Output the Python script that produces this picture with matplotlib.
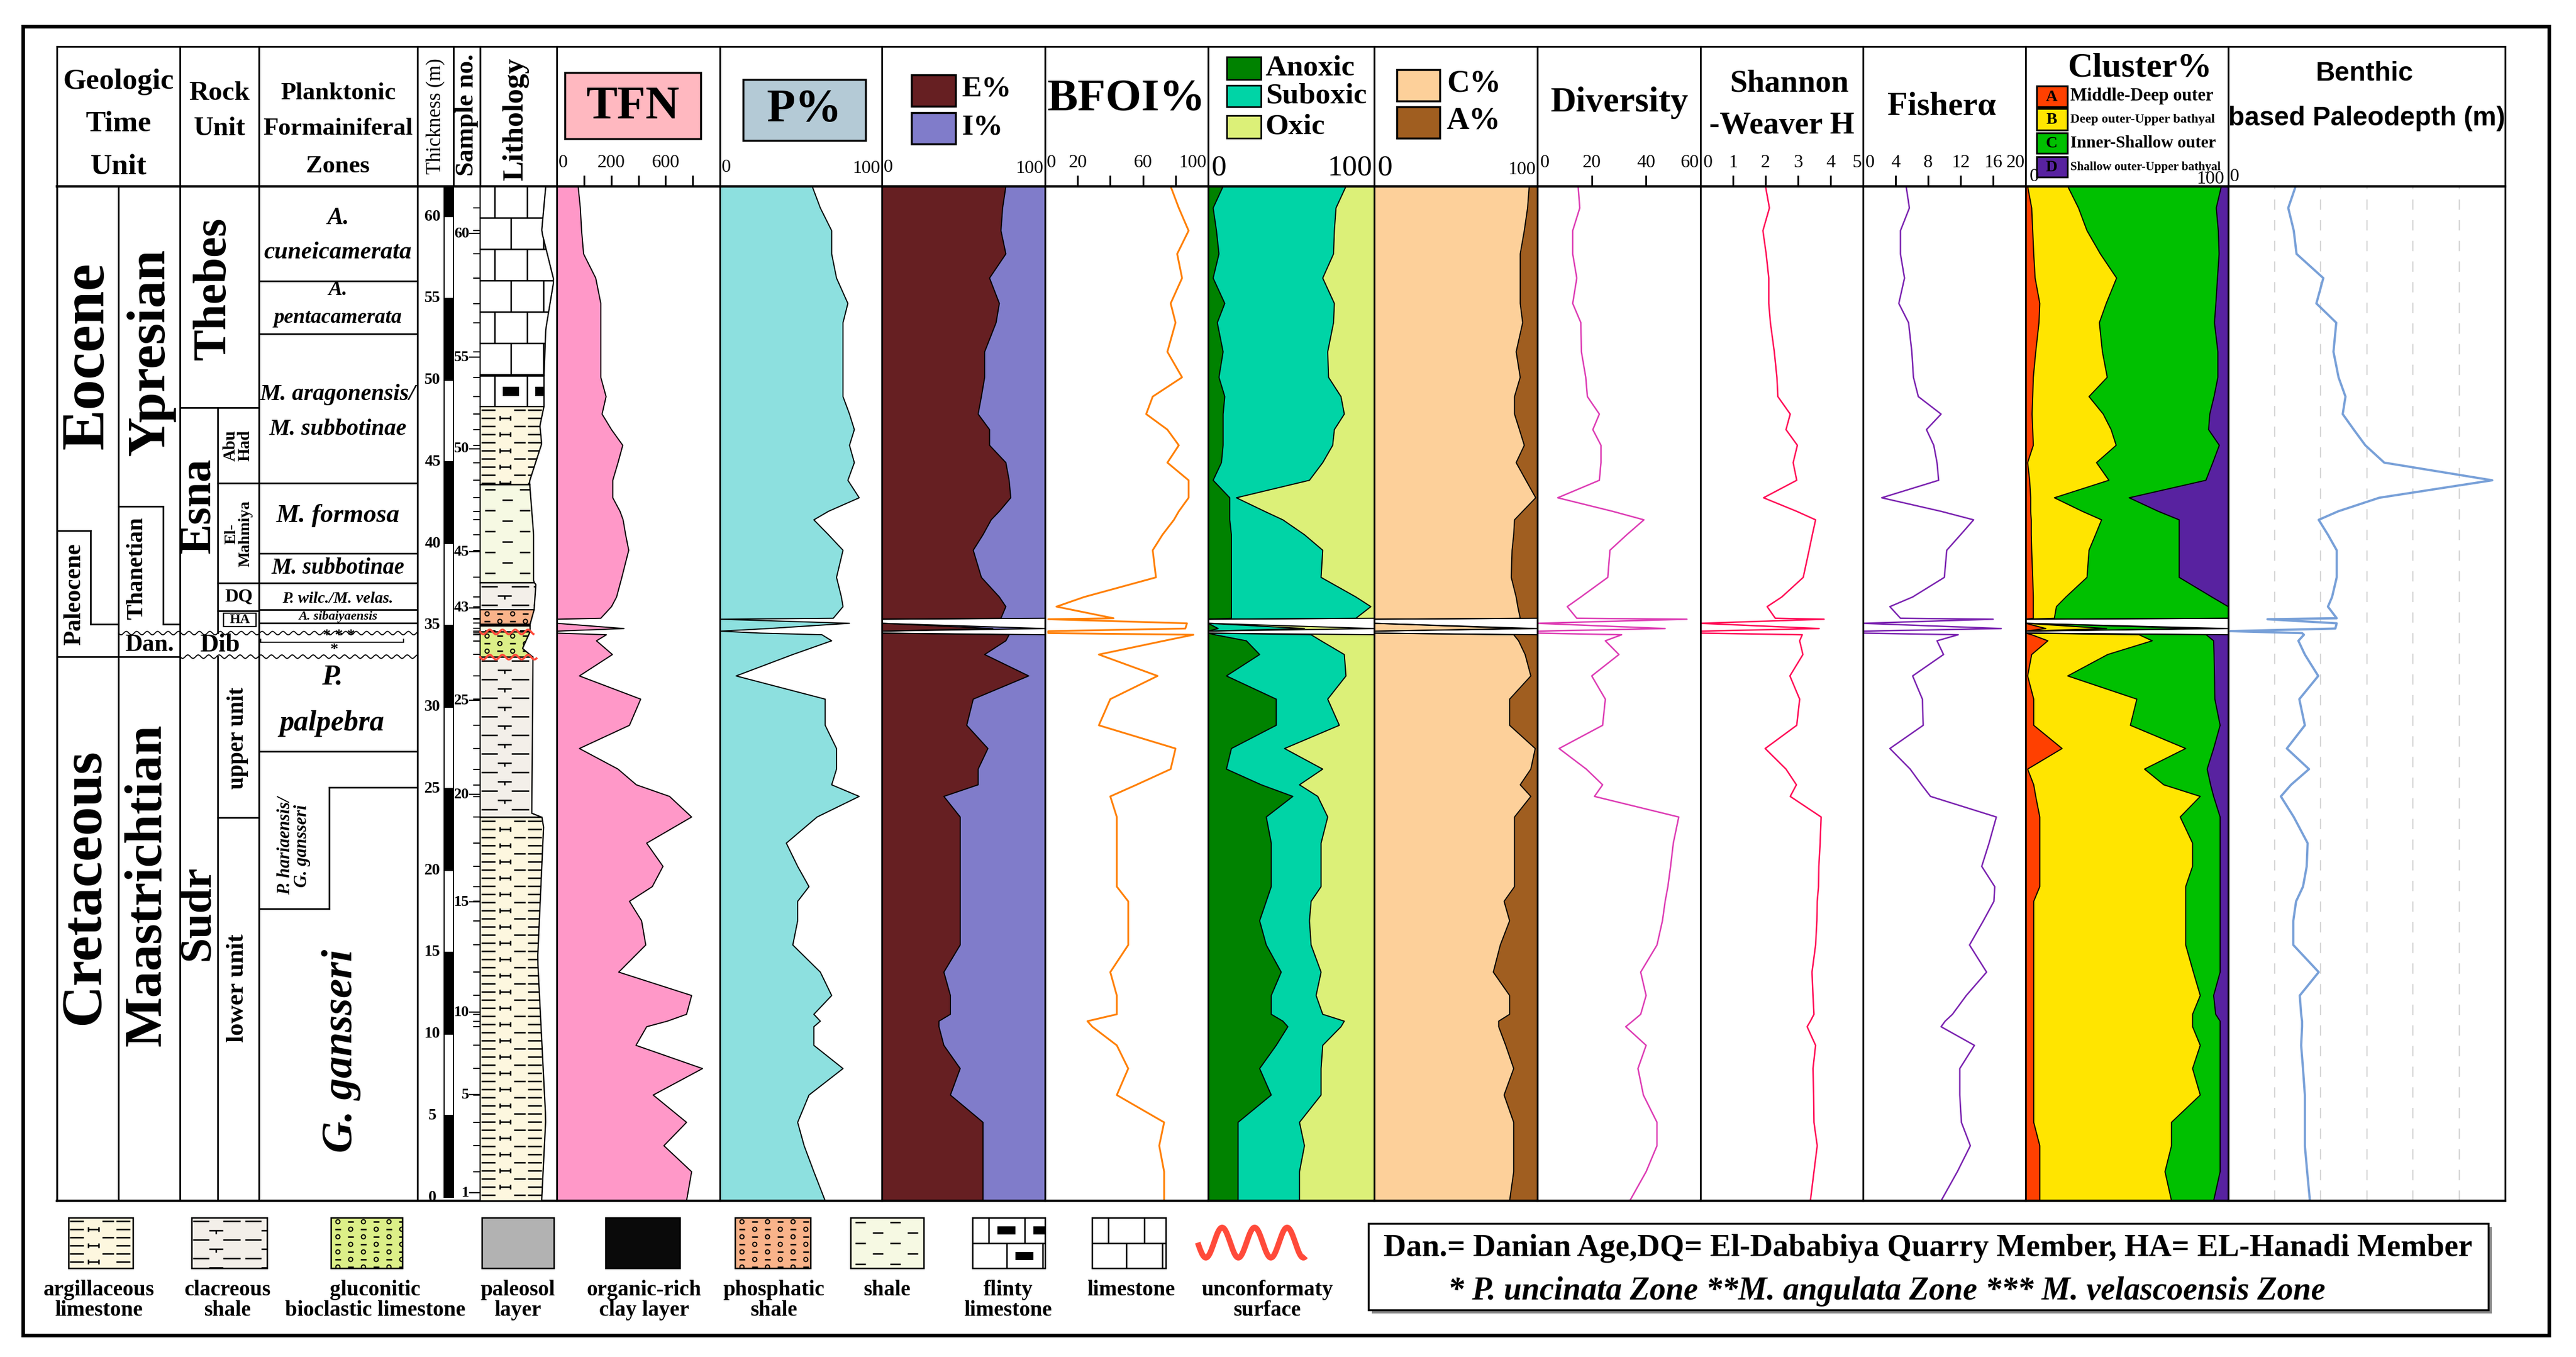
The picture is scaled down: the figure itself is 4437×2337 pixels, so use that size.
import numpy as np
import matplotlib.pyplot as plt
from matplotlib import font_manager
from matplotlib.collections import LineCollection
from matplotlib.patches import Polygon, Rectangle
from matplotlib.transforms import blended_transform_factory

# output geometry in pixels, y measured from the top of the picture
W, H = 4437, 2337
HDR_TOP, HDR_BOT, DATA_BOT = 80, 321, 2068
D_BOT, D_TOP = -0.21, 61.85
SERIF = "Liberation Serif"
installed = {f.name for f in font_manager.fontManager.ttflist}
HAS_NARROW = "Liberation Sans Narrow" in installed

# ---------------- values (sample levels, m) ----------------
depth_m = [61.85, 60.53, 59.14, 57.72, 56.24, 54.69, 53.51, 51.73, 50.17, 48.99, 47.92, 46.97,
           46.01, 44.95, 43.87, 42.80, 41.97, 41.45, 40.54, 39.59, 37.93, 36.73, 36.14, 35.43,
           35.37, 35.12, 34.80, 34.64, 34.52,
           34.42, 34.05, 33.21, 31.90, 30.48, 28.88, 27.46, 26.20, 25.24, 24.53, 23.27, 21.67,
           20.25, 19.01, 18.11, 16.92, 15.44, 13.78, 12.35, 11.20, 10.78, 10.44, 9.30, 7.88,
           6.26, 4.59, 3.16, 1.57, -0.21]
barren_depths = [35.37, 35.12, 34.64, 34.52]

tfn = [118, 130, 137, 148, 215, 243, 243, 243, 243, 272, 250, 302, 364, 338, 309, 309, 349, 366,
       380, 397, 359, 330, 302, 243,
       0, 0, 371, 0, 0,
       274, 219, 307, 125, 463, 401, 125, 338, 439, 622, 744, 496, 586, 527, 401, 468, 491, 342,
       744, 716, 610, 496, 437, 804, 532, 716, 591, 744, 716]
p_pct = [57, 62, 69, 69, 72, 79, 76, 76, 76, 76, 80, 83, 80, 83, 79, 86, 67, 58, 67, 76, 72, 75, 76, 70,
         0, 80, 30, 0, 25,
         63, 69, 45, 10, 65, 65, 72, 72, 69, 86, 60, 41, 48, 55, 48, 48, 45, 62, 69, 58, 62, 58, 58,
         76, 55, 48, 52, 58, 65]
e_pct = [76, 74, 73, 76, 66, 72, 70, 63, 63, 61, 59, 66, 66, 76, 78, 79, 72, 67, 62, 56, 61, 72, 76, 73,
         0, 0, 68, 0, 0,
         78, 76, 63, 90, 56, 52, 65, 59, 59, 38, 48, 48, 48, 48, 48, 48, 48, 38, 42, 42, 35, 35, 38,
         48, 42, 62, 62, 62, 62]
bfoi = [77, 82, 88, 81, 84, 77, 80, 75, 84, 66, 62, 75, 82, 75, 88, 88, 82, 79, 72, 66, 68, 24, 7, 42,
        2, 87, 86, 2, 2,
        91, 73, 33, 69, 40, 33, 80, 77, 56, 40, 44, 44, 44, 44, 51, 51, 51, 40, 44, 44, 26, 29, 44,
        51, 44, 73, 70, 73, 73]
anoxic = [9, 3, 5, 6.5, 3, 10, 5.5, 9, 6.5, 10, 9, 9, 9, 8, 3, 13, 13, 13, 14, 14, 14, 14, 14, 14,
          0, 0, 6, 0, 0,
          4, 23, 31, 11, 41, 41, 14, 11, 32, 51, 35, 38, 38, 38, 35, 31, 35, 44, 38, 38, 45, 48, 41,
          31, 38, 18, 18, 18, 18]
suboxic = [74, 74, 71, 69, 66, 66, 70, 63, 66, 70, 73, 67, 66, 61, 58, 4, 21, 32, 44, 55, 54, 75, 84, 75,
           0, 0, 52, 0, 0,
           58, 45, 51, 72, 31, 38, 32, 58, 23, 15, 37, 30, 30, 30, 27, 30, 27, 24, 27, 31, 37, 32, 28,
           37, 30, 37, 40, 37, 37]
c_pct = [95, 94, 92, 89.5, 89.5, 89.5, 91, 87, 89.5, 86, 86, 89, 92, 87, 93, 99, 91, 86, 85.5, 84.5,
         84, 87, 88, 89.5,
         0, 0, 90, 0, 0,
         85.5, 88.5, 92.5, 96, 83, 83, 98.7, 96, 89.5, 96, 86, 86, 86, 86, 79.6, 83, 77.3, 73, 83, 83,
         76.3, 76.3, 80.6, 85.5, 79.6, 85.5, 85.5, 85.5, 83]
diversity = [15, 15.6, 13, 13, 14.5, 13, 16, 16.2, 17.8, 18.4, 22.8, 20.4, 23.4, 23.4, 22.8, 7.5, 27.7,
             39.2, 32.9, 26.7, 25.9, 16, 11, 14.5,
             55, 0, 47, 0, 0,
             31, 25, 30, 20, 25, 24, 8, 18, 24, 21, 52, 50, 49, 48, 47, 46, 44, 38, 40, 38, 35, 32.5,
             40, 37, 39, 44, 44, 40, 34]
shannon = [2.0, 2.12, 1.92, 2.02, 2.1, 2.1, 2.15, 2.27, 2.35, 2.38, 2.76, 2.63, 2.98, 2.85, 2.96, 1.94,
           2.96, 3.54, 3.44, 3.34, 3.16, 2.5, 2.05, 2.3,
           3.8, 0, 3.65, 0, 0,
           3.13, 3.05, 3.15, 2.75, 3.05, 2.96, 1.99, 2.63, 2.95, 2.76, 3.71, 3.68, 3.64, 3.63, 3.59,
           3.58, 3.54, 3.43, 3.46, 3.49, 3.38, 3.28, 3.54, 3.46, 3.48, 3.49, 3.59, 3.49, 3.38]
fisher = [5.3, 5.7, 4.6, 4.6, 5.1, 4.4, 5.6, 6.0, 6.2, 6.8, 9.6, 7.8, 8.7, 9.1, 9.3, 2.3, 9.6, 13.6,
          12.0, 10.3, 10.0, 6.1, 3.3, 4.6,
          16, 0, 17, 0, 0,
          11.7, 9.1, 9.9, 6.1, 7.3, 7.4, 3.3, 5.8, 7.2, 8.3, 16.4, 15.5, 14.6, 16.2, 16.1, 14.8, 13.1,
          15.2, 12.7, 11.0, 10.1, 9.6, 13.7, 11.9, 11.9, 12.1, 13.2, 11.6, 9.6]
clus_a = [1, 3, 3.5, 4, 4.7, 7, 6.6, 5, 3.8, 3.5, 3.2, 3.5, 3.8, 1, 2, 2.5, 2.5, 2.8, 2.8, 3, 3.5, 3.8,
          3.8, 3.8,
          0, 0, 10, 0, 0,
          3, 11, 3, 1, 4, 4, 18, 1, 4, 5, 7, 7, 7, 7, 4, 4, 4, 4, 4, 4, 4, 4, 4, 4, 4, 4, 7, 7, 7]
clus_b = [19.8, 23.1, 26.8, 32.9, 40.2, 32.8, 29.8, 32.9, 36.5, 27.8, 35.1, 38.7, 40.9, 34, 39.1, 11.7,
          25.5, 34.7, 31.7, 28.3, 26.8, 16.1, 11.4, 10.4,
          0, 0, 30, 0, 0,
          53, 51.5, 37.5, 19.8, 50.9, 47.7, 61, 57.7, 64.2, 81.2, 69.3, 75.4, 75.4, 72, 75, 75, 75,
          78.8, 82.2, 78.4, 78.4, 78.4, 82.2, 78.4, 82.2, 68, 65, 61.8, 65]
clus_c = [75.8, 68, 64.8, 58.6, 49.8, 54.1, 56.8, 57, 54.6, 61.7, 52.6, 48.1, 50.9, 57.4, 47.9, 36.9,
          37.5, 38.3, 41.3, 44.5, 45.5, 72, 84.8, 85.8,
          0, 0, 46, 0, 0,
          33.1, 30.3, 52.5, 72.4, 38.5, 44.3, 13.8, 30.9, 23.1, 6.6, 19.7, 13.6, 13.6, 17, 17, 17, 17,
          13.2, 6.6, 11.4, 13.6, 13.6, 9.8, 13.6, 9.8, 24, 24, 27.2, 20.8]
paleodepth = [146, 130, 142, 148, 206, 191, 234, 228, 239, 254, 248, 272, 297, 338, 572, 327, 238, 196,
              216, 235, 235, 225, 216, 235,
              85, 235, 232, 5, 160,
              164, 152, 166, 195, 154, 166, 127, 175, 136, 114, 142, 172, 170, 162, 147, 141, 141, 196,
              155, 158, 160, 160, 158, 162, 166, 166, 166, 171, 177]

thick_labels = list(range(0, 61, 5))
sample_label_no = [1, 5, 10, 15, 20, 25, 43, 45, 50, 55, 60]
sample_label_depth = [0.28, 6.29, 11.33, 18.08, 24.65, 30.4, 36.06, 39.5, 45.8, 51.4, 58.97]

litho_top = [61.85, 50.28, 48.38, 43.60, 37.60, 35.95, 35.06, 34.96, 34.59, 33.05, 23.25]
litho_base = [50.28, 48.38, 43.60, 37.60, 35.95, 35.06, 34.96, 34.59, 33.05, 23.25, -0.21]
litho_kind = ["limestone", "flinty", "argillaceous", "shale", "calcareous", "phosphatic",
              "organic", "shale", "glauconitic", "calcareous", "argillaceous"]
unconformity_depth = [34.59, 33.05]
edge_depth = [61.85, 59.1, 56.1, 53.1, 50.2, 48.4, 47.2, 46.1, 43.8, 40.6, 37.65, 37.5, 35.95,
              35.06, 34.6, 33.58, 33.05, 23.5, 23.2, 14.6, 4.8, -0.21]
edge_x = [940, 933, 954, 940, 937, 937, 930, 933, 912, 919, 919, 923, 920, 913, 913, 900, 918,
          916, 937, 926, 940, 933]

zone_bounds = [56.05, 52.81, 43.68, 39.41, 37.59, 35.96, 35.12]

FACE = {"limestone": "white", "flinty": "white", "argillaceous": "#fdf7df", "shale": "#f6f9e3",
        "calcareous": "#f3efe9", "phosphatic": "#f9b38a", "organic": "#0a0a0a",
        "glauconitic": "#dcef88", "paleosol": "#b2b2b2"}

depth = np.array(depth_m)
total = np.where(np.isin(depth, barren_depths), 0.0, 100.0)


def box(x0, x1, y0, y1):
    return [x0 / W, 1 - y1 / H, (x1 - x0) / W, (y1 - y0) / H]


def px_to_depth(y):
    return D_TOP - (np.asarray(y, float) - HDR_BOT) * (D_TOP - D_BOT) / (DATA_BOT - HDR_BOT)


def depth_to_px(d):
    return HDR_BOT + (D_TOP - np.asarray(d, float)) * (DATA_BOT - HDR_BOT) / (D_TOP - D_BOT)


fig = plt.figure(figsize=(W / 100, H / 100), dpi=100)
bg = fig.add_axes([0, 0, 1, 1])
bg.set_xlim(0, W)
bg.set_ylim(H, 0)
bg.axis("off")


def txt(ax, x, y, s, size, weight="bold", **kw):
    kw.setdefault("ha", "center")
    kw.setdefault("va", "center")
    kw.setdefault("family", SERIF)
    return ax.text(x, y, s, fontsize=size, fontweight=weight, **kw)


# ---------------- outer frame and header grid ----------------
bg.add_patch(Rectangle((40, 46), 4351, 2254, fill=False, lw=4.5, ec="k"))
bg.plot([98, 4315], [HDR_TOP, HDR_TOP], color="k", lw=2.2)
bg.plot([98, 959], [HDR_BOT, HDR_BOT], color="k", lw=3)
for xv in [98, 310, 446, 719, 781, 827, 959, 1240, 1519, 1800, 2081, 2367, 2648, 2929, 3209,
           3489, 3838, 4315]:
    bg.plot([xv, xv], [HDR_TOP, HDR_BOT], color="k", lw=2.2)

txt(bg, 204, 141, "Geologic", 37)
txt(bg, 204, 214, "Time", 37)
txt(bg, 204, 287, "Unit", 37)
txt(bg, 378, 161, "Rock", 34)
txt(bg, 378, 222, "Unit", 34)
txt(bg, 582, 161, "Planktonic", 31)
txt(bg, 582, 222, "Formainiferal", 31)
txt(bg, 582, 287, "Zones", 31)
txt(bg, 750, 200, "Thickness (m)", 25, weight="normal", rotation=90)
txt(bg, 804, 198, "Sample no.", 32, rotation=90)
txt(bg, 888, 205, "Lithology", 37, rotation=90)

bg.add_patch(Rectangle((973, 125), 234, 114, fc="#ffb8c0", ec="k", lw=2.5))
txt(bg, 1090, 184, "TFN", 58)
bg.add_patch(Rectangle((1280, 137), 211, 105, fc="#b4cad6", ec="k", lw=2.5))
txt(bg, 1385, 190, "P%", 58)
bg.add_patch(Rectangle((1570, 129), 76, 54, fc="#661f22", ec="k", lw=2.5))
bg.add_patch(Rectangle((1570, 194), 76, 54, fc="#807cca", ec="k", lw=2.5))
txt(bg, 1656, 154, "E%", 37, ha="left")
txt(bg, 1656, 219, "I%", 37, ha="left")
txt(bg, 1940, 172, "BFOI%", 57)

for (y0, y1), col, lab in zip([(98, 137), (147, 184), (199, 238)],
                              ["#008200", "#00d4a6", "#dcf078"], ["Anoxic", "Suboxic", "Oxic"]):
    bg.add_patch(Rectangle((2113, y0), 59, y1 - y0, fc=col, ec="k", lw=2))
    txt(bg, 2180, (y0 + y1) / 2, lab, 37, ha="left")
bg.add_patch(Rectangle((2406, 120), 74, 54, fc="#fdd09a", ec="k", lw=2.5))
bg.add_patch(Rectangle((2406, 184), 74, 54, fc="#a05e20", ec="k", lw=2.5))
txt(bg, 2492, 145, "C%", 39, ha="left")
txt(bg, 2492, 209, "A%", 39, ha="left")
txt(bg, 2790, 177, "Diversity", 44)
txt(bg, 3082, 144, "Shannon", 39)
txt(bg, 3069, 217, "-Weaver H", 39)
txt(bg, 3345, 184, "Fisherα", 41)
txt(bg, 3686, 117, "Cluster%", 43)
clus_colors = ["#ff4000", "#ffe500", "#00c000", "#5822a0"]
clus_rows = [(148, 184), (187, 224), (229, 264), (270, 305)]
clus_text = ["Middle-Deep outer", "Deep outer-Upper bathyal", "Inner-Shallow outer",
             "Shallow outer-Upper bathyal"]
clus_size = [22, 16, 21, 15]
for (y0, y1), col, letter, lab, sz in zip(clus_rows, clus_colors, "ABCD", clus_text, clus_size):
    bg.add_patch(Rectangle((3508, y0), 53, y1 - y0, fc=col, ec="k", lw=2.2))
    txt(bg, 3534, (y0 + y1) / 2 + 1, letter, 20)
    txt(bg, 3566, (y0 + y1) / 2, lab, sz, ha="left")
if HAS_NARROW:
    pd_font, pd_size = ["Liberation Sans Narrow", "Liberation Sans"], 41
else:
    pd_font, pd_size = ["Liberation Sans"], 33
txt(bg, 4073, 127, "Benthic", pd_size, family=pd_font)
txt(bg, 4076, 204, "based Paleodepth (m)", pd_size, family=pd_font)


# ---------------- data panels ----------------
def panel(x0, x1, xmax, ticks=()):
    ax = fig.add_axes(box(x0, x1, HDR_BOT, DATA_BOT))
    ax.set_xlim(0, xmax)
    ax.set_ylim(D_BOT, D_TOP)
    ax.set_yticks([])
    ax.xaxis.set_ticks_position("top")
    ax.set_xticks(list(ticks))
    ax.tick_params(axis="x", direction="out", length=14, width=2.2,
                   labeltop=False, labelbottom=False)
    for s in ax.spines.values():
        s.set_linewidth(2.2)
    ax.spines["top"].set_linewidth(3)
    ax.spines["bottom"].set_linewidth(3)
    return ax


def top_label(ax, x, s, y=281, size=23, ha="center"):
    tr = blended_transform_factory(ax.transData, bg.transData)
    bg.text(x, y, s, transform=tr, ha=ha, va="center", fontsize=size, family=SERIF)


def stacked(ax, layers, colors):
    base = np.zeros_like(total)
    for lay, col in zip(layers, colors[:-1]):
        top = np.minimum(base + np.array(lay, float), total)
        ax.fill_betweenx(depth, base, top, color=col, lw=0)
        base = top
        ax.plot(top, depth, color="k", lw=1.4)
    ax.fill_betweenx(depth, base, total, color=colors[-1], lw=0)
    ax.plot(total, depth, color="k", lw=1.4)


ax = panel(959, 1240, 900, [150, 300, 450, 600, 750])
ax.fill_betweenx(depth, 0, tfn, color="#ff98c8", lw=0)
ax.plot(tfn, depth, color="k", lw=1.4)
top_label(ax, 8, "0", ha="left")
top_label(ax, 300, "200")
top_label(ax, 600, "600")

ax = panel(1240, 1519, 100)
ax.fill_betweenx(depth, 0, p_pct, color="#8de0df", lw=0)
ax.plot(p_pct, depth, color="k", lw=1.4)
top_label(ax, 1, "0", y=289, ha="left")
top_label(ax, 99, "100", y=291, ha="right")

ax = panel(1519, 1800, 100)
stacked(ax, [e_pct], ["#661f22", "#807cca"])
top_label(ax, 1, "0", y=289, ha="left")
top_label(ax, 99, "100", y=291, ha="right")

ax = panel(1800, 2081, 100, [20, 40, 60, 80])
ax.plot(bfoi, depth, color="#ff7f00", lw=2.2)
top_label(ax, 1, "0", ha="left")
top_label(ax, 20, "20")
top_label(ax, 60, "60")
top_label(ax, 99, "100", ha="right")

ax = panel(2081, 2367, 100)
stacked(ax, [anoxic, suboxic], ["#008200", "#00d4a6", "#dcf078"])
top_label(ax, 2, "0", y=289, size=37, ha="left")
top_label(ax, 99, "100", y=289, size=37, ha="right")

ax = panel(2367, 2648, 100)
stacked(ax, [c_pct], ["#fdd09a", "#a05e20"])
top_label(ax, 2, "0", y=289, size=37, ha="left")
top_label(ax, 99, "100", y=292, ha="right")

ax = panel(2648, 2929, 60, [20, 40])
ax.plot(diversity, depth, color="#dd3cb4", lw=1.8)
top_label(ax, 1, "0", ha="left")
top_label(ax, 20, "20")
top_label(ax, 40, "40")
top_label(ax, 59.5, "60", ha="right")

ax = panel(2929, 3209, 5, [1, 2, 3, 4])
ax.plot(shannon, depth, color="#ff0a55", lw=1.8)
for v in range(6):
    top_label(ax, min(max(v, 0.08), 4.95), str(v),
              ha="left" if v == 0 else ("right" if v == 5 else "center"))

ax = panel(3209, 3489, 20, [4, 8, 12, 16])
ax.plot(fisher, depth, color="#7a22b0", lw=1.8)
for v in range(0, 21, 4):
    top_label(ax, min(max(v, 0.3), 19.9), str(v),
              ha="left" if v == 0 else ("right" if v == 20 else "center"))

ax = panel(3489, 3838, 100)
stacked(ax, [clus_a, clus_b, clus_c], clus_colors)
top_label(ax, 2, "0", y=305, ha="left")
top_label(ax, 98, "100", y=308, ha="right")

ax = panel(3838, 4315, 600)
for g in [100, 200, 300, 400, 500]:
    ax.axvline(g, color="#d6d6d6", lw=1.6, dashes=(8, 8))
ax.plot(paleodepth, depth, color="#78a0d8", lw=2.8)
top_label(ax, 4, "0", y=304, ha="left")


# ---------------- lithology patterns ----------------
def pattern_parts(kind, x0, x1, y0, y1, row_h=54, brick_w=56):
    segs, dots, blocks = [], [], []
    if kind in ("limestone", "flinty"):
        for k, y in enumerate(np.arange(y0, y1, row_h)):
            segs.append([(x0, y), (x1, y)])
            start = x0 + (0.45 if k % 2 == 0 else 0.95) * brick_w
            for xv in np.arange(start, x1, brick_w):
                segs.append([(xv, y), (xv, y + row_h)])
                if kind == "flinty":
                    blocks.append((xv + 0.25 * brick_w, y + 0.35 * row_h,
                                   0.5 * brick_w, 0.3 * row_h))
    elif kind == "shale":
        for k, y in enumerate(np.arange(y0 + 8, y1, 18)):
            for xv in np.arange(x0 + (8 if k % 2 == 0 else 38), x1, 60):
                segs.append([(xv, y), (xv + 18, y)])
    elif kind == "argillaceous":
        for k, y in enumerate(np.arange(y0 + 6, y1, 14)):
            for xv in np.arange(x0 + 2, x1, 80):
                segs.append([(xv, y), (xv + 24, y)])
                if k % 2:
                    segs += [[(xv + 32, y), (xv + 50, y)], [(xv + 32, y - 4), (xv + 32, y + 4)],
                             [(xv + 50, y - 4), (xv + 50, y + 4)]]
                else:
                    segs.append([(xv + 56, y), (xv + 76, y)])
    elif kind == "calcareous":
        for k, y in enumerate(np.arange(y0 + 6, y1, 16)):
            for xv in np.arange(x0 + 2, x1, 90):
                if k % 2 == 0:
                    segs += [[(xv, y), (xv + 28, y)], [(xv + 52, y), (xv + 82, y)]]
                else:
                    segs += [[(xv + 28, y), (xv + 52, y)], [(xv + 40, y), (xv + 40, y + 6)]]
    elif kind in ("phosphatic", "glauconitic"):
        for k, y in enumerate(np.arange(y0 + 7, y1, 13)):
            for j, xv in enumerate(np.arange(x0 + 12, x1, 22)):
                if (k + j) % 2 == 0:
                    dots.append((xv, y))
                else:
                    segs.append([(xv - 5, y), (xv + 5, y)])
    return segs, dots, blocks


def draw_pattern(ax, kind, x0, x1, y0, y1, clip, in_depth, **kw):
    segs, dots, blocks = pattern_parts(kind, x0, x1, y0, y1, **kw)
    conv = px_to_depth if in_depth else (lambda v: v)
    if segs:
        lc = LineCollection([[(x, conv(y)) for x, y in s] for s in segs],
                            colors="k", linewidths=1.8, zorder=3)
        ax.add_collection(lc, autolim=False)
        lc.set_clip_path(clip)
    if dots:
        sc = ax.scatter([d[0] for d in dots], [conv(d[1]) for d in dots], s=26,
                        facecolors="none", edgecolors="k", linewidths=1.4, zorder=3)
        sc.set_clip_path(clip)
    for bx, by, bw, bh in blocks:
        ya, yb = conv(by), conv(by + bh)
        r = Rectangle((bx, min(ya, yb)), bw, abs(yb - ya), fc="k", ec="none", zorder=3)
        ax.add_patch(r)
        r.set_clip_path(clip)


# ---------------- stratigraphic columns ----------------
axs = fig.add_axes(box(98, 959, HDR_BOT, DATA_BOT))
axs.set_xlim(98, 959)
axs.set_ylim(D_BOT, D_TOP)
axs.axis("off")
axs.patch.set_alpha(0)


def hline(d, x0, x1, lw=2.0):
    axs.plot([x0, x1], [d, d], color="k", lw=lw, clip_on=False)


def vline(x, d0, d1, lw=2.0):
    axs.plot([x, x], [d0, d1], color="k", lw=lw, clip_on=False)


def wavy(d, x0, x1, amp, period, **kw):
    xs = np.linspace(x0, x1, 300)
    ys = depth_to_px(d) + amp * np.sin(2 * np.pi * (xs - x0) / period)
    axs.plot(xs, px_to_depth(ys), clip_on=False, **kw)


for xv, lw in [(98, 2.4), (204, 2.0), (310, 2.2), (446, 2.2), (719, 2.2)]:
    vline(xv, D_BOT, D_TOP, lw)
hline(D_BOT, 98, 959, 3)
# time units
hline(40.77, 98, 156)
vline(156, 40.77, 35.06)
hline(35.06, 156, 204)
hline(42.27, 204, 281)
vline(281, 42.27, 35.06)
hline(35.06, 281, 310)
hline(33.08, 98, 310)
wavy(34.52, 204, 719, 3, 18, color="k", lw=1.3)
wavy(33.08, 310, 719, 3, 18, color="k", lw=1.3)
# rock units
hline(48.3, 310, 446)
vline(375, 48.3, 34.52)
vline(375, 33.08, D_BOT)
for d in [43.68, 37.6, 35.88]:
    hline(d, 375, 446)
axs.add_patch(Rectangle((385, 34.93), 56, 0.81, fill=False, ec="k", lw=1.6))
hline(23.25, 375, 446)
# planktonic zones
for d in zone_bounds:
    hline(d, 446, 719)
hline(27.3, 446, 719)
hline(25.1, 567, 719)
vline(567, 25.1, 17.65)
hline(17.65, 446, 567)
hline(33.98, 449, 695, 1.4)
vline(449, 33.98, 34.15, 1.4)
vline(695, 33.98, 34.15, 1.4)

txt(axs, 152, 51.5, "Eocene", 76, rotation=90)
txt(axs, 260, 51.7, "Ypresian", 68, rotation=90)
txt(axs, 128, 36.9, "Paleocene", 30, rotation=90)
txt(axs, 236, 38.5, "Thanetian", 29, rotation=90)
txt(axs, 257, 33.78, "Dan.", 30)
txt(axs, 379, 33.78, "Dib", 32)
txt(axs, 146, 19.0, "Cretaceous", 72, rotation=90)
txt(axs, 254, 19.1, "Maastrichtian", 66, rotation=90)
txt(axs, 368, 55.6, "Thebes", 58, rotation=90)
txt(axs, 343, 42.3, "Esna", 56, rotation=90)
txt(axs, 410, 46.0, "Abu\nHad", 21, rotation=90, linespacing=0.9)
txt(axs, 411, 40.6, "El-\nMahmiya", 20, rotation=90, linespacing=0.9)
txt(axs, 411, 36.72, "DQ", 23)
txt(axs, 413, 35.33, "HA", 17)
txt(axs, 341, 17.4, "Sudr", 56, rotation=90)
txt(axs, 410, 28.1, "upper unit", 28, rotation=90)
txt(axs, 409, 12.8, "lower unit", 31, rotation=90)

it = dict(style="italic")
txt(axs, 582, 59.9, "A.", 30, **it)
txt(axs, 582, 57.8, "cuneicamerata", 30, **it)
txt(axs, 582, 55.5, "A.", 26, **it)
txt(axs, 582, 53.8, "pentacamerata", 26, **it)
txt(axs, 582, 49.1, "M. aragonensis/", 29, **it)
txt(axs, 582, 47.0, "M. subbotinae", 29, **it)
txt(axs, 582, 41.7, "M. formosa", 32, **it)
txt(axs, 582, 38.5, "M. subbotinae", 28, **it)
txt(axs, 582, 36.6, "P. wilc./M. velas.", 20, **it)
txt(axs, 582, 35.53, "A. sibaiyaensis", 16, **it)
txt(axs, 584, 34.32, "* * *", 20)
txt(axs, 576, 33.5, "*", 20)
txt(axs, 572, 31.8, "P.", 36, **it)
txt(axs, 572, 29.0, "palpebra", 36, **it)
txt(axs, 506, 21.5, "P. hariaensis/\nG. gansseri", 22, rotation=90, linespacing=1.0, **it)
txt(axs, 588, 8.95, "G. gansseri", 54, rotation=90, **it)

# thickness scale and sample numbers
for d in thick_labels:
    txt(axs, 745, d, str(d), 20)
for k in range(13):
    lo, hi = 5 * k, min(5 * k + 5, D_TOP)
    axs.add_patch(Rectangle((765, lo), 16, hi - lo, fc="k" if k % 2 == 0 else "white",
                            ec="k", lw=1.4))
for d in depth_m[1:-1]:
    axs.plot([816, 827], [d, d], color="k", lw=1.4)
for n, d in zip(sample_label_no, sample_label_depth):
    axs.plot([809, 827], [d, d], color="k", lw=1.6)
    txt(axs, 808, d, str(n), 19, ha="right")

# lithology column
LITHO_X0 = 827
ed = np.array(edge_depth)[::-1]
ex = np.array(edge_x)[::-1]
for top, base, kind in zip(litho_top, litho_base, litho_kind):
    ds = np.linspace(base, top, 40)
    xs = np.interp(ds, ed, ex)
    verts = [(LITHO_X0, base)] + list(zip(xs, ds)) + [(LITHO_X0, top)]
    poly = Polygon(verts, closed=True, fc=FACE[kind], ec="k", lw=1.6, zorder=2)
    axs.add_patch(poly)
    draw_pattern(axs, kind, LITHO_X0, 962, float(depth_to_px(top)), float(depth_to_px(base)),
                 poly, True)
for d in unconformity_depth:
    wavy(d, LITHO_X0, float(np.interp(d, ed, ex)) + 6, 4, 22, color="#ff4a3a", lw=2.6, zorder=4)

# ---------------- legend ----------------
leg_kind = ["argillaceous", "calcareous", "glauconitic", "paleosol", "organic", "phosphatic",
            "shale", "flinty", "limestone"]
leg_x = [(118, 229), (330, 460), (570, 693), (830, 954), (1043, 1171), (1266, 1396),
         (1465, 1591), (1675, 1800), (1881, 2008)]
leg_label = ["argillaceous\nlimestone", "clacreous\nshale", "gluconitic\nbioclastic limestone",
             "paleosol\nlayer", "organic-rich\nclay layer", "phosphatic\nshale", "shale",
             "flinty\nlimestone", "limestone"]
leg_cx = [170, 392, 646, 892, 1109, 1333, 1528, 1736, 1948]
for kind, (x0, x1), lab, cx in zip(leg_kind, leg_x, leg_label, leg_cx):
    rect = Rectangle((x0, 2097), x1 - x0, 87, fc=FACE[kind], ec="k", lw=1.8)
    bg.add_patch(rect)
    if kind in ("limestone", "flinty"):
        draw_pattern(bg, kind, x0, x1, 2097, 2184, rect, False, row_h=44, brick_w=62)
    else:
        draw_pattern(bg, kind, x0, x1, 2097, 2184, rect, False)
    txt(bg, cx, 2204, lab, 27, va="top", linespacing=1.0)
wx = np.linspace(2063, 2249, 300)
bg.plot(wx, 2140 + 26 * np.sin(2 * np.pi * (wx - 2063) / 56), color="#ff4a3a", lw=7,
        solid_capstyle="butt")
txt(bg, 2183, 2204, "unconformaty\nsurface", 27, va="top", linespacing=1.0)

bg.add_patch(Rectangle((2363, 2113), 1929, 149, fc="#8a8a8a", ec="none"))
bg.add_patch(Rectangle((2357, 2107), 1929, 149, fc="white", ec="k", lw=2.4))
txt(bg, 3321, 2150, "Dan.= Danian Age,DQ= El-Dababiya Quarry Member, HA= EL-Hanadi Member", 39)
txt(bg, 3250, 2224, "* P. uncinata Zone **M. angulata Zone *** M. velascoensis Zone", 40,
    style="italic")

fig.savefig("out.png", dpi=100)
